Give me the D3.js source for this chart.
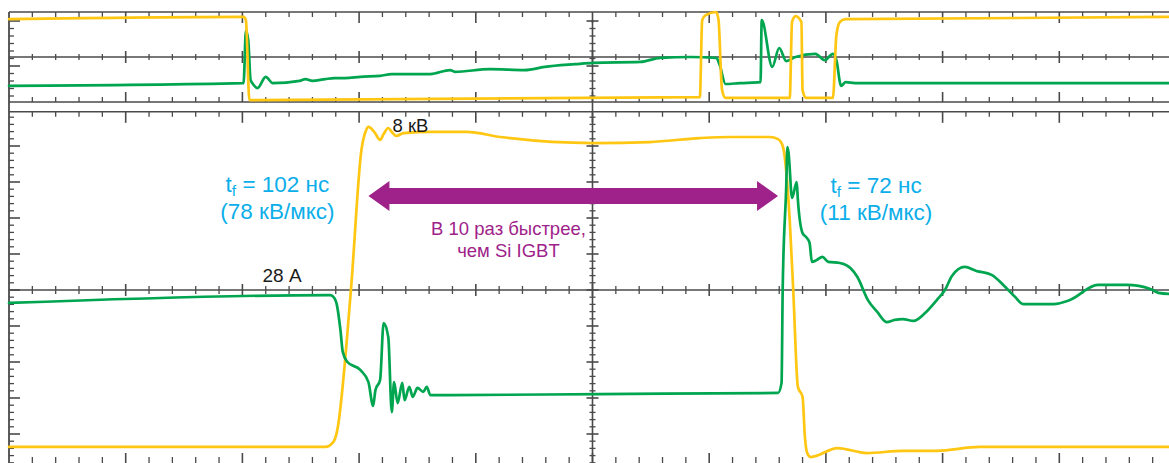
<!DOCTYPE html>
<html>
<head>
<meta charset="utf-8">
<script src="https://cdn.jsdelivr.net/npm/d3@7"></script>
<style>
  body { margin: 0; background: #fff; }
  svg { display: block; }
  text { font-family: "Liberation Sans", Arial, sans-serif; }
</style>
</head>
<body>
<div id="container"></div>
<script>
// time in divisions, amplitude in divisions
var topYellow = [
  [0, 0.84], [2.01, 0.89], [2.03, 0.82], [2.06, -0.96], [2.08, -0.96],
  [5.92, -0.89], [5.94, 0.82], [5.97, 0.93], [6.06, 1.0], [6.08, 0.82],
  [6.11, -0.73], [6.14, -0.91], [6.69, -0.91], [6.71, 0.78], [6.74, 0.91],
  [6.79, 0.78], [6.80, -0.73], [6.83, -0.91], [7.06, -0.91], [7.09, 0.49],
  [7.12, 0.78], [7.17, 0.84], [9.94, 0.89]
];

var topGreen = [
  [0, -0.64], [2.01, -0.58], [2.03, 0.58], [2.05, 0.38], [2.07, -0.51],
  [2.09, -0.60], [2.13, -0.69], [2.20, -0.44], [2.26, -0.58], [2.49, -0.53],
  [2.54, -0.49], [2.60, -0.53], [2.71, -0.49], [2.79, -0.47], [2.88, -0.47],
  [3.01, -0.44], [3.18, -0.42], [3.28, -0.38], [3.61, -0.38], [3.78, -0.29],
  [3.82, -0.33], [4.12, -0.27], [4.42, -0.29], [4.59, -0.22], [4.85, -0.16],
  [5.01, -0.13], [5.41, -0.11], [5.58, -0.02], [5.84, 0], [6.06, -0.02],
  [6.09, -0.18], [6.14, -0.60], [6.26, -0.58], [6.44, -0.56], [6.45, 0.82],
  [6.54, -0.22], [6.60, 0.20], [6.66, -0.09], [6.74, 0], [6.91, 0.07],
  [6.99, -0.07], [7.06, 0.07], [7.09, -0.07], [7.13, -0.64], [7.17, -0.56],
  [7.25, -0.58], [9.94, -0.58]
];

var botYellow = [
  [0, -4.36], [2.71, -4.36], [2.78, -4.22], [2.81, -3.94], [2.93, 0],
  [3.02, 3.89], [3.06, 4.44], [3.08, 4.53], [3.13, 4.39], [3.18, 4.17],
  [3.21, 4.33], [3.25, 4.50], [3.28, 4.39], [3.32, 4.28], [3.38, 4.36],
  [3.61, 4.39], [3.92, 4.39], [4.21, 4.25], [5.01, 4.08], [5.49, 4.11],
  [5.92, 4.22], [6.18, 4.25], [6.52, 4.25], [6.59, 4.19], [6.63, 4.00],
  [6.69, 1.94], [6.72, 0], [6.76, -2.69], [6.80, -2.97], [6.82, -4.08],
  [6.84, -4.53], [6.87, -4.64], [7.10, -4.39], [7.35, -4.53], [7.66, -4.47],
  [7.95, -4.47], [8.32, -4.36], [9.94, -4.36]
];

var botGreen = [
  [0, -0.36], [2.75, -0.14], [2.78, -0.19], [2.81, -0.42], [2.84, -1.11],
  [2.86, -1.72], [2.90, -2.00], [3.01, -2.22], [3.08, -2.56], [3.12, -3.22],
  [3.14, -2.78], [3.18, -2.50], [3.21, -0.92], [3.25, -1.31], [3.28, -3.39],
  [3.30, -2.56], [3.33, -3.14], [3.37, -2.58], [3.39, -3.06], [3.43, -2.69],
  [3.46, -2.97], [3.50, -2.72], [3.55, -2.83], [3.58, -2.69], [3.61, -2.92],
  [3.78, -2.92], [5.06, -2.89], [6.59, -2.86], [6.62, -2.58], [6.63, 0.08],
  [6.66, 2.86], [6.67, 3.97], [6.68, 3.81], [6.71, 2.56], [6.75, 3.00],
  [6.76, 2.50], [6.80, 1.58], [6.83, 1.47], [6.86, 1.31], [6.88, 0.78],
  [6.92, 0.83], [6.97, 0.92], [7.02, 0.78], [7.12, 0.75], [7.21, 0.61],
  [7.27, 0.36], [7.36, -0.28], [7.44, -0.61], [7.52, -0.89], [7.59, -0.83],
  [7.66, -0.81], [7.75, -0.86], [7.85, -0.64], [7.95, -0.28], [8.02, 0],
  [8.08, 0.39], [8.19, 0.64], [8.29, 0.53], [8.42, 0.42], [8.52, 0.14],
  [8.62, -0.19], [8.69, -0.39], [8.95, -0.39], [9.09, -0.28], [9.33, 0.14],
  [9.58, 0.14], [9.78, 0.03], [9.85, -0.08], [9.94, -0.11]
];

// annotation texts
var labelVolt = '8 кВ';
var labelAmp = '28 А';
var leftFall = ['102 нс', '(78 кВ/мкс)'];
var rightFall = ['72 нс', '(11 кВ/мкс)'];
var arrowText = ['В 10 раз быстрее,', 'чем Si IGBT'];
var arrowSpan = [3.08, 6.59];

var W = 1169, H = 463;
var GRID = '#4a4a4a', YELLOW = '#FFC612', GREEN = '#00A550', PURPLE = '#9E2289', BLUE = '#0AAEEA';

var svg = d3.select('#container').append('svg').attr('width', W).attr('height', H);

var x = d3.scaleLinear().domain([0, 10]).range([9, 1176]);
var yTop = d3.scaleLinear().domain([-1, 1]).range([102, 12]);
var yBot = d3.scaleLinear().domain([-5, 5]).range([470, 110]);

var xMinor = d3.range(1, 50).map(function(i) { return i * 0.2; });
function isMajor(v) { return Math.abs(v - Math.round(v)) < 1e-6; }

function hline(y) {
  svg.append('line').attr('x1', x(0)).attr('x2', W).attr('y1', y).attr('y2', y)
    .attr('stroke', GRID).attr('stroke-width', 1.6);
}

// ticks along a horizontal line: up, down lengths for minor/major
function hticks(y, upMin, downMin, upMaj, downMaj) {
  svg.append('g').selectAll('line').data(xMinor).enter().append('line')
    .attr('x1', function(d) { return x(d); })
    .attr('x2', function(d) { return x(d); })
    .attr('y1', function(d) { return y - (isMajor(d) ? upMaj : upMin); })
    .attr('y2', function(d) { return y + (isMajor(d) ? downMaj : downMin); })
    .attr('stroke', GRID).attr('stroke-width', function(d) { return isMajor(d) ? 1.6 : 1.3; });
}

function vticks(xp, scale, vals, majors, leftMin, rightMin, leftMaj, rightMaj) {
  svg.append('g').selectAll('line').data(vals).enter().append('line')
    .attr('y1', function(d) { return scale(d); })
    .attr('y2', function(d) { return scale(d); })
    .attr('x1', function(d, i) { return xp - (majors(d) ? leftMaj : leftMin); })
    .attr('x2', function(d, i) { return xp + (majors(d) ? rightMaj : rightMin); })
    .attr('stroke', GRID).attr('stroke-width', function(d) { return majors(d) ? 1.6 : 1.3; });
}

// --- grid ---
hline(yTop(1));
hline(yTop(0));
hline(yTop(-1));
hline(yBot(4.95));
hline(yBot(0));

hticks(yTop(1), 0, 5, 0, 11);
hticks(yTop(0), 3, 3, 6, 6);
hticks(yTop(-1), 5, 0, 10, 0);
hticks(yBot(4.95), 0, 5, 0, 11);
hticks(yBot(0), 4, 4, 6, 6);
hticks(465, 8, 0, 12, 0);

// left border and centre vertical
svg.append('line').attr('x1', x(0)).attr('x2', x(0)).attr('y1', yTop(1)).attr('y2', H)
  .attr('stroke', GRID).attr('stroke-width', 1.8);
svg.append('line').attr('x1', x(5)).attr('x2', x(5)).attr('y1', yTop(0.82)).attr('y2', H)
  .attr('stroke', GRID).attr('stroke-width', 1.6);

var topTickVals = d3.range(0, 11).map(function(i) { return 0.8 - i / 6; });
function topMaj(d) { return Math.abs(d - 0.8) < 1e-6 || Math.abs(d + 0.2) < 1e-6; }
var botTickVals = d3.range(-24, 25).map(function(i) { return i * 0.2; }).filter(function(d) { return d < 4.9; });
function botMaj(d) { return isMajor(d); }

vticks(x(0), yTop, topTickVals, topMaj, 0, 5, 0, 11);
vticks(x(0), yBot, botTickVals, botMaj, 0, 5, 0, 11);
vticks(x(5), yTop, topTickVals, topMaj, 3, 3, 6, 6);
vticks(x(5), yBot, botTickVals, botMaj, 3, 3, 6, 6);

// --- traces ---
function trace(data, yScale, color) {
  var line = d3.line()
    .x(function(d) { return x(d[0]); })
    .y(function(d) { return yScale(d[1]); })
    .curve(d3.curveMonotoneX);
  svg.append('path').datum(data).attr('d', line)
    .attr('fill', 'none').attr('stroke', color).attr('stroke-width', 2.7)
    .attr('stroke-linejoin', 'round').attr('stroke-linecap', 'round');
}

trace(topGreen, yTop, GREEN);
trace(topYellow, yTop, YELLOW);
trace(botYellow, yBot, YELLOW);
trace(botGreen, yBot, GREEN);

// --- double arrow ---
var ax1 = x(arrowSpan[0]), ax2 = x(arrowSpan[1]), ay = yBot(2.61);
var hl = 21, hh = 15, sh = 8;
svg.append('polygon')
  .attr('points', [
    [ax1, ay], [ax1 + hl, ay - hh], [ax1 + hl, ay - sh], [ax2 - hl, ay - sh], [ax2 - hl, ay - hh],
    [ax2, ay], [ax2 - hl, ay + hh], [ax2 - hl, ay + sh], [ax1 + hl, ay + sh], [ax1 + hl, ay + hh]
  ].map(function(p) { return p.join(','); }).join(' '))
  .attr('fill', PURPLE);

// --- labels ---
svg.append('text').attr('x', x(3.44)).attr('y', yBot(4.39)).attr('text-anchor', 'middle')
  .attr('font-size', 18.5).attr('fill', '#1a1a1a').text(labelVolt);
svg.append('text').attr('x', x(2.34)).attr('y', yBot(0.22)).attr('text-anchor', 'middle')
  .attr('font-size', 19).attr('fill', '#1a1a1a').text(labelAmp);

function fallLabel(cx, v, lines) {
  var t = svg.append('text').attr('x', x(cx)).attr('y', yBot(v)).attr('text-anchor', 'middle')
    .attr('font-size', 22.5).attr('fill', BLUE);
  t.append('tspan').text('t');
  t.append('tspan').attr('font-size', 15.5).attr('dy', 4).text('f');
  t.append('tspan').attr('dy', -4).text(' = ' + lines[0]);
  svg.append('text').attr('x', x(cx)).attr('y', yBot(v) + 27).attr('text-anchor', 'middle')
    .attr('font-size', 22.5).attr('fill', BLUE).text(lines[1]);
}
fallLabel(2.30, 2.72, leftFall);
fallLabel(7.43, 2.69, rightFall);

svg.append('text').attr('x', x(4.28)).attr('y', yBot(1.53)).attr('text-anchor', 'middle')
  .attr('font-size', 18.5).attr('fill', PURPLE).text(arrowText[0]);
svg.append('text').attr('x', x(4.28)).attr('y', yBot(0.93)).attr('text-anchor', 'middle')
  .attr('font-size', 18.5).attr('fill', PURPLE).text(arrowText[1]);
</script>
</body>
</html>
